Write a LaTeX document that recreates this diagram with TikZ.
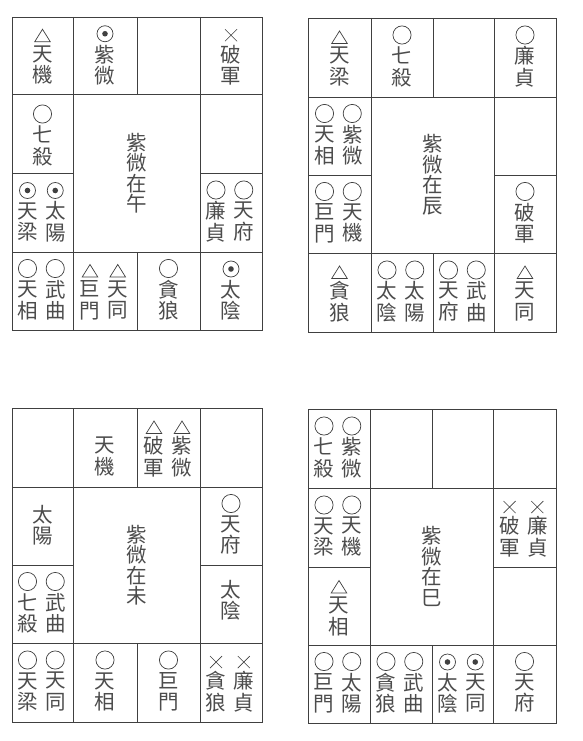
\documentclass[tikz,border=0pt]{standalone}
\usepackage{fontspec}
\newfontfamily\cjk{Noto Sans CJK TC}
\tikzset{
  gridline/.style={draw=black!75, line width=0.9pt},
  symline/.style={draw=black!75, line width=0.7pt},
  symfill/.style={fill=black!75},
  starname/.style={font=\cjk\fontsize{20.5}{21.5}\selectfont, text=black!70, align=center, inner sep=0pt},
  centretitle/.style={font=\cjk\fontsize{20.5}{20.5}\selectfont, text=black!70, align=center, inner sep=0pt},
}
% symbols: #1 = x, #2 = cell centre y
\newcommand\symO[2]{\draw[symline] (#1,#2-22.5) circle[radius=9.1];}
\newcommand\symD[2]{\draw[symline] (#1,#2-22) circle[radius=8]; \fill[symfill] (#1,#2-22) circle[radius=2.8];}
\newcommand\symT[2]{\draw[symline, line join=miter] (#1-7.8,#2-14) -- (#1+7.8,#2-14) -- (#1,#2-26.5) -- cycle;}
\newcommand\symX[2]{\draw[symline] (#1-6,#2-26.5) -- (#1+6,#2-14.5) (#1-6,#2-14.5) -- (#1+6,#2-26.5);}
\newcommand\symN[2]{}
% one star column: name, x, cell centre y, symbol, char1, char2
\newcommand\zc[6]{#4{#2}{#3}\node[starname] (#1) at (#2,#3+9.25) {#5\\#6};}
% grid: x0..x4, y0, y1, y3, y4 ; \ymid = y2
\newcommand\chartgrid[9]{%
  \draw[gridline] (#1,#6) rectangle (#5,#9);
  \draw[gridline] (#1,#7) -- (#5,#7) (#1,#8) -- (#5,#8);
  \draw[gridline] (#2,#6) -- (#2,#9) (#4,#6) -- (#4,#9);
  \draw[gridline] (#3,#6) -- (#3,#7) (#3,#8) -- (#3,#9);
  \draw[gridline] (#1,\ymid) -- (#2,\ymid) (#4,\ymid) -- (#5,\ymid);
}
\begin{document}
\begin{tikzpicture}[x=1pt,y=-1pt]
\fill[white] (0,0) rectangle (583,741);
\useasboundingbox (0,0) rectangle (583,741);

% ---------------- chart A : 紫微在午 ----------------
\def\ymid{173}
\chartgrid{12}{73}{137}{200}{262}{17}{94.5}{252}{330}
\zc{a-t1}{42.5}{55.75}{\symT}{天}{機}
\zc{a-t2}{105}{55.75}{\symD}{紫}{微}
\zc{a-t4}{231}{55.75}{\symX}{破}{軍}
\zc{a-l2}{42.5}{136.5}{\symO}{七}{殺}
\zc{a-l3a}{27.5}{212.5}{\symD}{天}{梁}
\zc{a-l3b}{55.25}{212.5}{\symD}{太}{陽}
\zc{a-r3a}{216}{212.5}{\symO}{廉}{貞}
\zc{a-r3b}{243.75}{212.5}{\symO}{天}{府}
\zc{a-b1a}{27.5}{291}{\symO}{天}{相}
\zc{a-b1b}{55.25}{291}{\symO}{武}{曲}
\zc{a-b2a}{90}{291}{\symT}{巨}{門}
\zc{a-b2b}{117.75}{291}{\symT}{天}{同}
\zc{a-b3}{168.5}{291}{\symO}{貪}{狼}
\zc{a-b4}{231}{291}{\symD}{太}{陰}
\node[centretitle] (a-c) at (137,173.25) {紫\\微\\在\\午};

% ---------------- chart B : 紫微在辰 ----------------
\def\ymid{175}
\chartgrid{308}{371}{433}{494}{556}{18}{97}{253}{332}
\zc{b-t1}{339.5}{57.5}{\symT}{天}{梁}
\zc{b-t2}{402}{57.5}{\symO}{七}{殺}
\zc{b-t4}{525}{57.5}{\symO}{廉}{貞}
\zc{b-l2a}{324.5}{136}{\symO}{天}{相}
\zc{b-l2b}{352.25}{136}{\symO}{紫}{微}
\zc{b-l3a}{324.5}{214}{\symO}{巨}{門}
\zc{b-l3b}{352.25}{214}{\symO}{天}{機}
\zc{b-r3}{525}{214}{\symO}{破}{軍}
\zc{b-b1}{339.5}{292.5}{\symT}{貪}{狼}
\zc{b-b2a}{387}{292.5}{\symO}{太}{陰}
\zc{b-b2b}{414.75}{292.5}{\symO}{太}{陽}
\zc{b-b3a}{448.5}{292.5}{\symO}{天}{府}
\zc{b-b3b}{476.25}{292.5}{\symO}{武}{曲}
\zc{b-b4}{525}{292.5}{\symT}{天}{同}
\node[centretitle] (b-c) at (432.5,175) {紫\\微\\在\\辰};

% ---------------- chart C : 紫微在未 ----------------
\def\ymid{565}
\chartgrid{12}{73}{137}{200}{262}{408}{487}{643}{722}
\zc{c-t2}{105}{447.5}{\symN}{天}{機}
\zc{c-t3a}{154}{447.5}{\symT}{破}{軍}
\zc{c-t3b}{182}{447.5}{\symT}{紫}{微}
\node[starname] (c-l2) at (42.5,525) {太\\陽};
\zc{c-l3a}{27.5}{604}{\symO}{七}{殺}
\zc{c-l3b}{55.25}{604}{\symO}{武}{曲}
\zc{c-r2}{231}{526}{\symO}{天}{府}
\node[starname] (c-r3) at (231,600) {太\\陰};
\zc{c-b1a}{27.5}{682.5}{\symO}{天}{梁}
\zc{c-b1b}{55.25}{682.5}{\symO}{天}{同}
\zc{c-b2}{105}{682.5}{\symO}{天}{相}
\zc{c-b3}{168.5}{682.5}{\symO}{巨}{門}
\zc{c-b4a}{216}{682.5}{\symX}{貪}{狼}
\zc{c-b4b}{243.75}{682.5}{\symX}{廉}{貞}
\node[centretitle] (c-c) at (137,565) {紫\\微\\在\\未};

% ---------------- chart D : 紫微在巳 ----------------
\def\ymid{567}
\chartgrid{308}{370}{432}{493}{556}{409}{488}{645}{723}
\zc{d-t1a}{324}{448.5}{\symO}{七}{殺}
\zc{d-t1b}{351.75}{448.5}{\symO}{紫}{微}
\zc{d-l2a}{324}{527.5}{\symO}{天}{梁}
\zc{d-l2b}{351.75}{527.5}{\symO}{天}{機}
\zc{d-l3}{339}{607}{\symT}{天}{相}
\zc{d-r2a}{509.5}{527.5}{\symX}{破}{軍}
\zc{d-r2b}{537.25}{527.5}{\symX}{廉}{貞}
\zc{d-b1a}{324}{684}{\symO}{巨}{門}
\zc{d-b1b}{351.75}{684}{\symO}{太}{陽}
\zc{d-b2a}{386}{684}{\symO}{貪}{狼}
\zc{d-b2b}{413.75}{684}{\symO}{武}{曲}
\zc{d-b3a}{447.5}{684}{\symD}{太}{陰}
\zc{d-b3b}{475.25}{684}{\symD}{天}{同}
\zc{d-b4}{524.5}{684}{\symO}{天}{府}
\node[centretitle] (d-c) at (432,566.5) {紫\\微\\在\\巳};
\end{tikzpicture}
\end{document}
